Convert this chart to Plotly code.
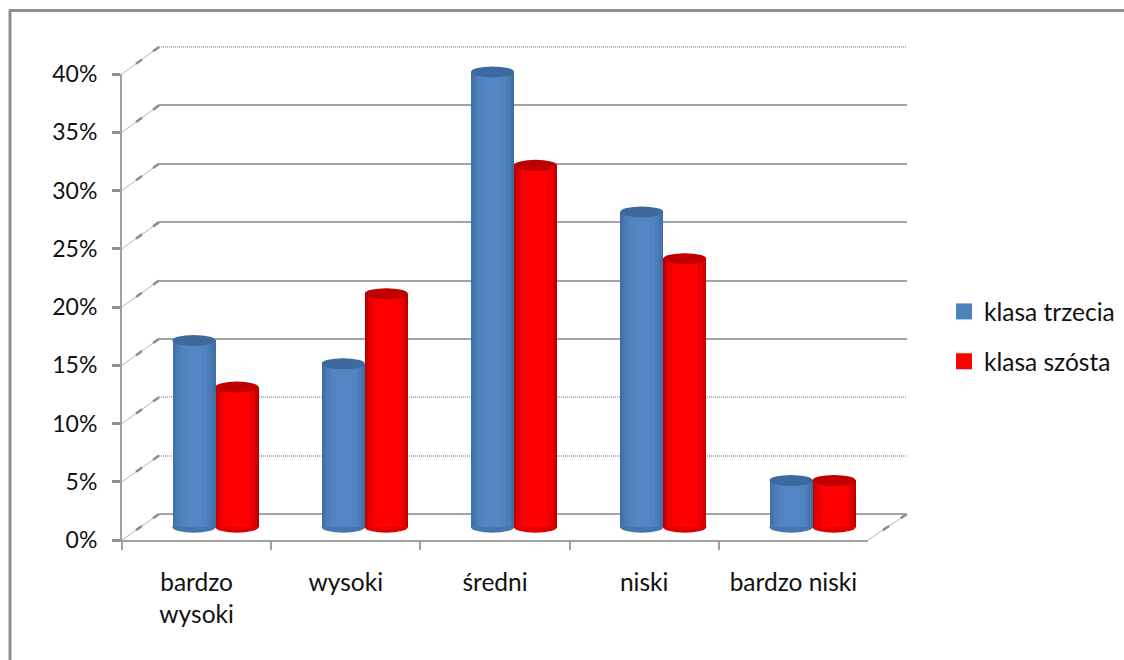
import plotly.graph_objects as go

categories = ["bardzo<br>wysoki", "wysoki", "średni", "niski", "bardzo niski"]
series_names = ["klasa trzecia", "klasa szósta"]
klasa_trzecia = [16, 14, 39, 27, 4]
klasa_szosta = [12, 20, 31, 23, 4]
y_ticks = [0, 5, 10, 15, 20, 25, 30, 35, 40]
grid_solid = [0, 15, 20, 25, 30, 35]
grid_dotted = [5, 10, 40]

W, H = 1124, 660
FONT = "Lato"
FS = 24.5
FS_Y = 23
GRAY = "#a0a0a0"

def dx(a, b):
    return [a / W, b / W]

def dy(top, bottom):
    return [1 - bottom / H, 1 - top / H]

BLUE = ["#3f6ea5", "#4575ae", "#4b7db8", "#5083bf", "#5486c3"]
RED = ["#b80000", "#d60000", "#ee0000", "#fb0000", "#ff0000"]
FRACS = [1.0, 0.92, 0.8, 0.62, 0.36]
BAR_W = 0.288

fig = go.Figure()

# legend entries + category axis
for name, col in zip(series_names, ["#4f81bd", "#ff0000"]):
    fig.add_trace(go.Scatter(
        x=categories, y=[None] * 5, name=name, mode="markers", legendgroup=name,
        marker=dict(symbol="square", size=16, color=col),
        xaxis="x", yaxis="y", showlegend=True, cliponaxis=False))

# back wall grid carriers
fig.add_trace(go.Scatter(x=[0], y=[None], xaxis="x2", yaxis="y2", showlegend=False, hoverinfo="skip"))
fig.add_trace(go.Scatter(x=[0], y=[None], xaxis="x3", yaxis="y3", showlegend=False, hoverinfo="skip"))

shapes = []
for vals, sign, pal, top_col, base_col, name in [
    (klasa_trzecia, -1, BLUE, "#3c6a9f", "#4775ad", series_names[0]),
    (klasa_szosta, 1, RED, "#c00000", "#e00000", series_names[1]),
]:
    xs = [i + sign * BAR_W / 2 for i in range(len(vals))]
    for frac, col in zip(FRACS, pal):
        fig.add_trace(go.Bar(
            x=xs, y=vals, width=BAR_W * frac, marker=dict(color=col, line=dict(width=0)),
            xaxis="x4", yaxis="y4", showlegend=False, name=name))
    for x, v in zip(xs, vals):
        shapes.append(dict(type="circle", xref="x4", yref="y4", xsizemode="pixel", ysizemode="pixel",
                           xanchor=x, yanchor=v, x0=-21.5, x1=21.5, y0=-5.5, y1=5.5,
                           fillcolor=top_col, line=dict(width=0), layer="above"))
        shapes.append(dict(type="circle", xref="x4", yref="y4", xsizemode="pixel", ysizemode="pixel",
                           xanchor=x, yanchor=0, x0=-21.5, x1=21.5, y0=-5.5, y1=5.5,
                           fillcolor=base_col, line=dict(width=0), layer="below"))

# diagonal connectors between front axis and back wall
FRONT_X, BACK_X = 122, 159
def y_front(v):
    return 540 - v * 11.65
def y_back(v):
    return 514 - v * 11.675

def diag(x0, y0, x1, y1):
    out = [dict(type="line", xref="paper", yref="paper", x0=x0 / W, x1=x1 / W, y0=1 - y0 / H, y1=1 - y1 / H,
                line=dict(color="#b5b5b5", width=1), layer="below")]
    for a, b in [(0.38, 0.54), (0.84, 1.0)]:
        out.append(dict(type="line", xref="paper", yref="paper",
                        x0=(x0 + (x1 - x0) * a) / W, x1=(x0 + (x1 - x0) * b) / W,
                        y0=1 - (y0 + (y1 - y0) * a) / H, y1=1 - (y0 + (y1 - y0) * b) / H,
                        line=dict(color="#8c8c8c", width=2.5), layer="below"))
    return out

for v in y_ticks:
    shapes += diag(FRONT_X, y_front(v), BACK_X, y_back(v))
shapes += diag(868, 540, 907, 514)

# outer frame: top and left edges only
FRAME = dict(color="#8e8e8e", width=3)
shapes.append(dict(type="line", xref="paper", yref="paper", x0=9 / W, x1=1, y0=1 - 10.5 / H, y1=1 - 10.5 / H,
                   line=FRAME, layer="below"))
shapes.append(dict(type="line", xref="paper", yref="paper", x0=10 / W, x1=10 / W, y0=0, y1=1 - 10.5 / H,
                   line=FRAME, layer="below"))

hidden_x = dict(visible=False, fixedrange=True, automargin=False)
back_dom_x = dx(159, 907)
back_dom_y = dy(47 - 11.675, 514 + 11.675)

fig.update_layout(
    width=W, height=H, autosize=False, margin=dict(l=0, r=0, t=0, b=0),
    paper_bgcolor="white", plot_bgcolor="rgba(0,0,0,0)",
    font=dict(family=FONT, size=FS, color="#111111"),
    barmode="overlay", bargap=0,
    showlegend=True,
    legend=dict(x=949 / W, y=1 - 289 / H, xanchor="left", yanchor="top", bgcolor="rgba(0,0,0,0)",
                font=dict(family=FONT, size=FS, color="#111111"), indentation=-5,
                traceorder="grouped", tracegroupgap=15, itemclick=False, itemdoubleclick=False),
    xaxis=dict(domain=dx(122, 868), type="category", categoryorder="array", categoryarray=categories,
               range=[-0.5, 4.5], tickson="boundaries", ticks="outside", ticklen=8, tickwidth=2, tickcolor=GRAY,
               showline=True, linecolor=GRAY, linewidth=2, showgrid=False, zeroline=False, automargin=False,
               anchor="y", ticklabelstandoff=20, tickfont=dict(family=FONT, size=FS, color="#111111")),
    yaxis=dict(domain=dy(74, 540), range=[0, 40], tickmode="array", tickvals=y_ticks,
               ticktext=[f"{v}%" for v in y_ticks], ticks="outside", ticklen=8, tickwidth=2.5, tickcolor="#909090",
               showline=True, linecolor=GRAY, linewidth=2, showgrid=False, zeroline=False, automargin=False,
               anchor="x", ticklabelstandoff=10, tickfont=dict(family=FONT, size=FS_Y, color="#111111")),
    xaxis2=dict(domain=back_dom_x, anchor="y2", **hidden_x),
    yaxis2=dict(domain=back_dom_y, range=[-1, 41], anchor="x2", tickmode="array", tickvals=grid_solid,
                showticklabels=False, ticks="", showline=False, zeroline=False, showgrid=True, automargin=False,
                gridcolor="#a4a4a4", gridwidth=2),
    xaxis3=dict(domain=back_dom_x, anchor="y3", **hidden_x),
    yaxis3=dict(domain=back_dom_y, range=[-1, 41], anchor="x3", tickmode="array", tickvals=grid_dotted,
                showticklabels=False, ticks="", showline=False, zeroline=False, showgrid=True, automargin=False,
                gridcolor="#b4b4b4", gridwidth=2, griddash="1px,1px"),
    xaxis4=dict(domain=dx(140.8, 887.2), range=[-0.5, 4.5], anchor="y4", **hidden_x),
    yaxis4=dict(domain=dy(60.2, 527.2 + 2 * 11.675), range=[-2, 40], anchor="x4", visible=False, automargin=False),
    shapes=shapes,
)

fig.write_html("out.html", config={"displayModeBar": False},
               post_script="document.body.style.margin='0';")
